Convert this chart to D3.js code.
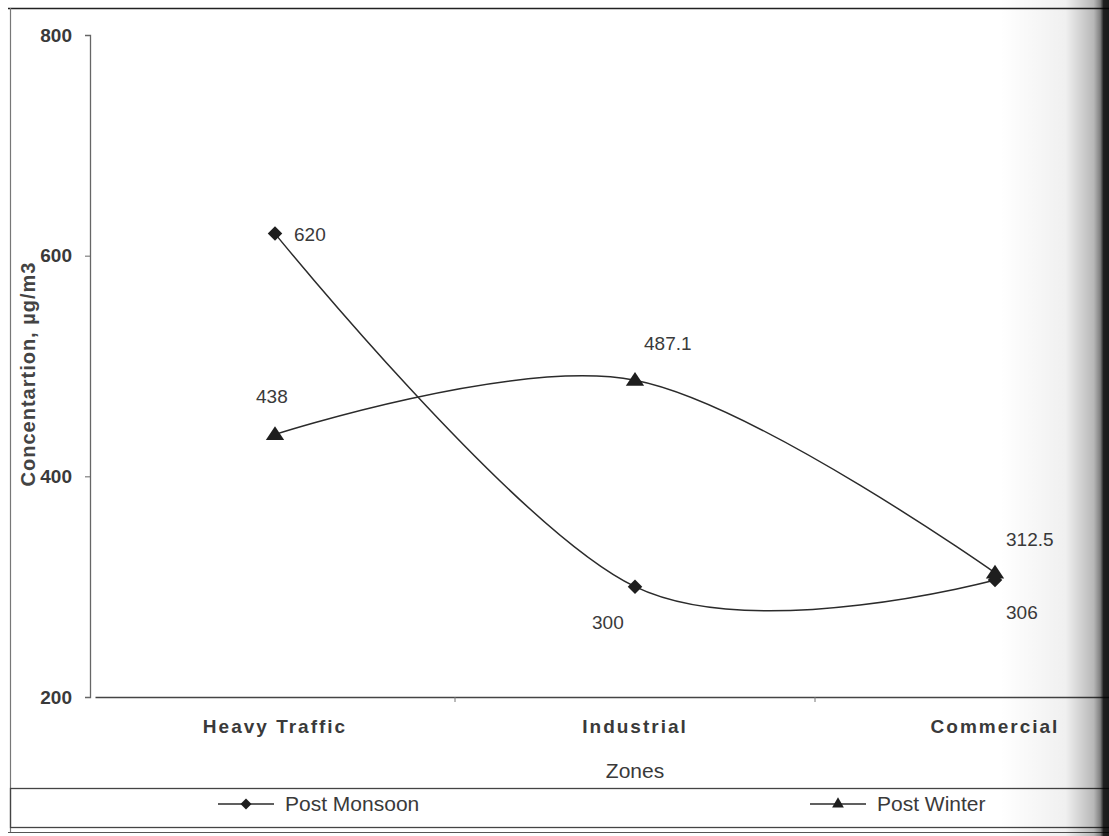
<!DOCTYPE html>
<html>
<head>
<meta charset="utf-8">
<script src="https://cdn.jsdelivr.net/npm/d3@7/dist/d3.min.js"></script>
<style>
  html, body { margin: 0; padding: 0; background: #fff; }
  svg { display: block; font-family: Arial, "Liberation Sans", sans-serif; }
</style>
</head>
<body>
<svg id="chart" width="1109" height="836"></svg>
<script>
// Zones and concentrations (µg/m3)
const zones = ["Heavy Traffic", "Industrial", "Commercial"];
const postMonsoon = [620, 300, 306];
const postWinter = [438, 487.1, 312.5];
const yTicks = [200, 400, 600, 800];
const seriesNames = ["Post Monsoon", "Post Winter"];

const svg = d3.select("#chart");
const W = 1109, H = 836;

const plot = { left: 90, right: 1170, top: 35, bottom: 697 };

const x = d3.scaleBand().domain(zones).range([plot.left + 5, plot.right + 5]);
const xc = d => x(d) + x.bandwidth() / 2;
const y = d3.scaleLinear().domain([200, 800]).range([plot.bottom, plot.top]);

const ink = "#2b2b2b";
const textCol = "#3a3a3a";

// outer frame
svg.append("line").attr("x1", 8).attr("x2", W).attr("y1", 8.5).attr("y2", 8.5)
  .attr("stroke", "#222").attr("stroke-width", 1.6);
svg.append("line").attr("x1", 10.5).attr("x2", 10.5).attr("y1", 8).attr("y2", 832)
  .attr("stroke", "#777").attr("stroke-width", 1.2);
svg.append("line").attr("x1", 8).attr("x2", W).attr("y1", 832.5).attr("y2", 832.5)
  .attr("stroke", "#555").attr("stroke-width", 1.2);

// y axis
const yAxis = d3.axisLeft(y).tickValues(yTicks).tickSize(5).tickPadding(13);
const gy = svg.append("g").attr("transform", `translate(${plot.left},0)`).call(yAxis);
gy.select(".domain").attr("stroke", "#666").attr("stroke-width", 1.3);
gy.selectAll(".tick line").attr("stroke", "#666");
gy.selectAll(".tick text").attr("fill", textCol).attr("font-size", 19)
  .attr("font-weight", "bold");

// x axis
const xAxis = d3.axisBottom(x).tickSize(0).tickPadding(23);
const gx = svg.append("g").attr("transform", `translate(0,${plot.bottom})`).call(xAxis);
gx.select(".domain").attr("stroke", "#444").attr("stroke-width", 1.4);
gx.selectAll(".tick text").attr("fill", textCol).attr("font-size", 19)
  .attr("font-weight", "bold").attr("letter-spacing", 2);
// category separators
gx.selectAll(".sep").data(zones.slice(1)).enter().append("line")
  .attr("x1", d => x(d)).attr("x2", d => x(d)).attr("y1", 0).attr("y2", 5)
  .attr("stroke", "#777");

// axis titles
svg.append("text").attr("x", xc("Industrial")).attr("y", 778)
  .attr("text-anchor", "middle").attr("font-size", 21).attr("fill", textCol)
  .text("Zones");
svg.append("text")
  .attr("transform", `translate(35,${374}) rotate(-90)`)
  .attr("text-anchor", "middle").attr("font-size", 20).attr("fill", "#444")
  .attr("font-weight", "bold").attr("letter-spacing", 1)
  .text("Concentartion, µg/m3");

// smoothed series lines
const line = d3.line().x((d, i) => xc(zones[i])).y(d => y(d))
  .curve(d3.curveCardinal.tension(0));

svg.append("path").datum(postMonsoon).attr("d", line)
  .attr("fill", "none").attr("stroke", ink).attr("stroke-width", 1.5);
svg.append("path").datum(postWinter).attr("d", line)
  .attr("fill", "none").attr("stroke", ink).attr("stroke-width", 1.5);

const diamond = d3.symbol().type(d3.symbolSquare).size(105);
const triangle = d3.symbol().type(d3.symbolTriangle).size(110);

svg.selectAll(".pm").data(postMonsoon).enter().append("path")
  .attr("d", diamond).attr("fill", "#1e1e1e")
  .attr("transform", (d, i) => `translate(${xc(zones[i])},${y(d)}) rotate(45)`);
svg.selectAll(".pw").data(postWinter).enter().append("path")
  .attr("d", triangle).attr("fill", "#1e1e1e")
  .attr("transform", (d, i) => `translate(${xc(zones[i])},${y(d) + 1}) scale(1.15,1)`);

// data labels
const fmt = v => String(v);
const pmOffsets = [[19, 7], [-43, 42], [11, 39]];
const pwOffsets = [[-19, -31], [9, -30], [11, -27]];
svg.selectAll(".pml").data(postMonsoon).enter().append("text")
  .attr("x", (d, i) => xc(zones[i]) + pmOffsets[i][0])
  .attr("y", (d, i) => y(d) + pmOffsets[i][1])
  .attr("font-size", 19).attr("fill", textCol).text(fmt);
svg.selectAll(".pwl").data(postWinter).enter().append("text")
  .attr("x", (d, i) => xc(zones[i]) + pwOffsets[i][0])
  .attr("y", (d, i) => y(d) + pwOffsets[i][1])
  .attr("font-size", 19).attr("fill", textCol).text(fmt);

// legend box
svg.append("rect").attr("x", 10.5).attr("y", 788.5).attr("width", W).attr("height", 39)
  .attr("fill", "none").attr("stroke", "#444").attr("stroke-width", 1.3);
const legY = 804;
const legItems = [
  { name: seriesNames[0], x0: 218, sym: diamond, size: 60, rot: 45 },
  { name: seriesNames[1], x0: 810, sym: triangle, size: 60, rot: 0 }
];
legItems.forEach(it => {
  svg.append("line").attr("x1", it.x0).attr("x2", it.x0 + 56)
    .attr("y1", legY).attr("y2", legY).attr("stroke", ink).attr("stroke-width", 1.4);
  svg.append("path").attr("d", d3.symbol().type(it.sym.type()).size(it.size)())
    .attr("transform", `translate(${it.x0 + 28},${legY}) rotate(${it.rot})`).attr("fill", "#1e1e1e");
  svg.append("text").attr("x", it.x0 + 67).attr("y", legY + 7)
    .attr("font-size", 21).attr("fill", textCol).text(it.name);
});

// page shading along the right edge
const defs = svg.append("defs");
const grad = defs.append("linearGradient").attr("id", "edge").attr("x1", 0).attr("x2", 1);
grad.append("stop").attr("offset", "0").attr("stop-color", "#000").attr("stop-opacity", 0);
grad.append("stop").attr("offset", "0.6").attr("stop-color", "#000").attr("stop-opacity", 0.06);
grad.append("stop").attr("offset", "0.86").attr("stop-color", "#000").attr("stop-opacity", 0.28);
grad.append("stop").attr("offset", "0.92").attr("stop-color", "#000").attr("stop-opacity", 0.5);
grad.append("stop").attr("offset", "0.95").attr("stop-color", "#000").attr("stop-opacity", 0.88);
grad.append("stop").attr("offset", "1").attr("stop-color", "#000").attr("stop-opacity", 0.9);
svg.append("rect").attr("x", 1000).attr("y", 0).attr("width", 109).attr("height", H)
  .attr("fill", "url(#edge)").style("pointer-events", "none");
</script>
</body>
</html>
